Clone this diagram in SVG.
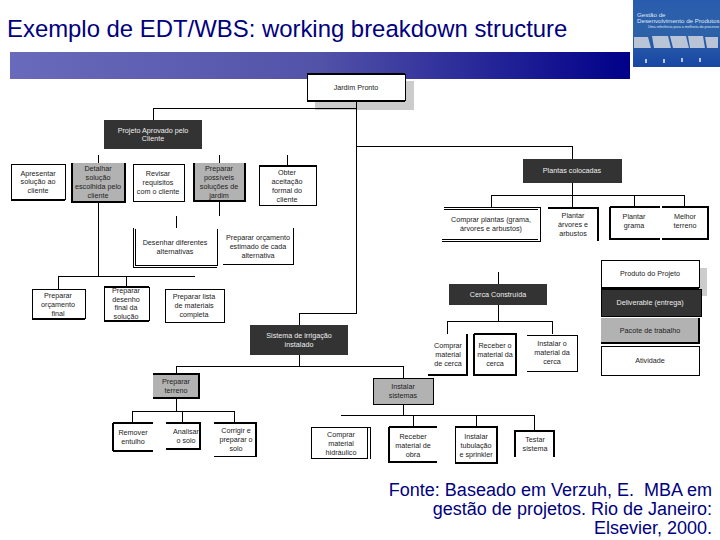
<svg xmlns="http://www.w3.org/2000/svg" width="720" height="540" viewBox="0 0 720 540">
<style>
text{font-family:"Liberation Sans",Arial,sans-serif}
.t{font-size:7.2px;fill:#222;text-anchor:middle}
.w{font-size:7.2px;fill:#eee;text-anchor:middle}
.b{fill:#fff}.g{fill:#b2b2b2}.d{fill:#333}
.e{fill:none;stroke:#000;stroke-width:1;shape-rendering:crispEdges}
.h{fill:none;stroke:#000;stroke-width:2;shape-rendering:crispEdges}
.c{fill:none;stroke:#000;stroke-width:1;shape-rendering:crispEdges}
.f{font-size:18px;fill:#000080;text-anchor:end;white-space:pre}
.l{fill:#b9c4d6}
.m{fill:#dfe8f5}
</style>
<defs><linearGradient id="band" x1="0" x2="1" y1="0" y2="0"><stop offset="0" stop-color="#6a6abc"/><stop offset="0.5" stop-color="#5252a8"/><stop offset="1" stop-color="#00008a"/></linearGradient>
<linearGradient id="logo" x1="0" x2="0" y1="0" y2="1"><stop offset="0" stop-color="#2a5cae"/><stop offset="0.5" stop-color="#2d62a8"/><stop offset="1" stop-color="#1746a4"/></linearGradient></defs>
<rect width="720" height="540" fill="#fff"/>
<text x="7" y="37" font-size="23.900" fill="#000080">Exemplo de EDT/WBS: working breakdown structure</text>
<rect x="10" y="52" width="620" height="27" fill="url(#band)"/>
<g id="logo-box"><rect x="633" y="0" width="87" height="67" fill="url(#logo)"/>
<path class="l" d="M634 37h14l3 11h-17zM652 36h16l3 12h-17zM670 36h16l3 12h-16zM688 36h15l2 12h-15zM705 37h13v11h-11z"/>
<rect class="l" x="645" y="59" width="2" height="4"/><rect class="l" x="663" y="59" width="2" height="4"/><rect class="l" x="681" y="58" width="2" height="4"/><rect class="l" x="699" y="58" width="2" height="4"/>
<text class="m" x="637" y="17" font-size="6.2">Gestão de</text><text class="m" x="637" y="23" font-size="6.2">Desenvolvimento de Produtos</text><text class="m" x="648" y="27.500" font-size="3.6">Uma referência para a melhoria do processo</text></g>
<rect x="315" y="81" width="99" height="29" fill="#ccc"/>
<g id="connectors">
<path class="c" d="M356 101V313H299V327M153 108H356M153 108V120M356 146H572V159M98 155V163M219 155V163M287 155V165M98 202V276M58 289V276H195M126 276V287M219 201V216M176 216V228M572 183V207M491 207V195H684V207M634 195V207M498 272V284M498 305V321M447 334V321H552V334M299 355V366M176 374V366H403V378M176 398V411M132 423V411H234V423M182 411V423M403 404V415M341 415H534V432M413 415V428M476 415V428"/>
</g>
<g id="n1"><rect class="b" x="307" y="74" width="98" height="27"/><path class="h" d="M307 74H405M307 101H405"/><path class="e" d="M307 74V101M405 74V101"/><text class="t" x="356" y="90">Jardim Pronto</text></g>
<g id="n2"><rect class="d" x="104" y="120" width="98" height="29"/><text class="w" x="153" y="133">Projeto Aprovado pelo</text><text class="w" x="153" y="141">Cliente</text></g>
<g id="n3"><rect class="b" x="11" y="164" width="54" height="36"/><path class="e" d="M11 164V200M11 164H65M65 164V200"/><path class="h" d="M11 200H65"/><text class="t" x="38" y="176">Apresentar</text><text class="t" x="38" y="184">solução ao</text><text class="t" x="38" y="193">cliente</text></g>
<g id="n4"><rect class="g" x="72" y="163" width="53" height="39"/><path class="h" d="M72 163V202H125V163"/><text class="t" x="98" y="171">Detalhar</text><text class="t" x="98" y="180">solução</text><text class="t" x="98" y="189">escolhida pelo</text><text class="t" x="98" y="198">cliente</text></g>
<g id="n5"><rect class="b" x="133" y="164" width="51" height="37"/><path class="e" d="M133 164H184V201H133V164"/><text class="t" x="158" y="176">Revisar</text><text class="t" x="158" y="185">requisitos</text><text class="t" x="158" y="194">com o cliente</text></g>
<g id="n6"><rect class="g" x="194" y="163" width="51" height="38"/><path class="h" d="M194 163V201H245V163"/><text class="t" x="219" y="171">Preparar</text><text class="t" x="219" y="180">possíveis</text><text class="t" x="219" y="189">soluções de</text><text class="t" x="219" y="198">jardim</text></g>
<g id="n7"><rect class="b" x="259" y="165" width="57" height="40"/><path class="h" d="M259 166H316"/><path class="e" d="M259 165V205H316V165"/><text class="t" x="287" y="175">Obter</text><text class="t" x="287" y="184">aceitação</text><text class="t" x="287" y="193">formal do</text><text class="t" x="287" y="202">cliente</text></g>
<g id="n8"><rect class="b" x="133" y="228" width="84" height="39"/><path class="e" d="M133 228V267H217M135 229V265H217V229"/><text class="t" x="175" y="245">Desenhar diferentes</text><text class="t" x="175" y="254">alternativas</text></g>
<g id="n9"><rect class="b" x="223" y="228" width="70" height="36"/><path class="e" d="M223 264H293V228"/><text class="t" x="258" y="240">Preparar orçamento</text><text class="t" x="258" y="249">estimado de cada</text><text class="t" x="258" y="258">alternativa</text></g>
<g id="n10"><rect class="b" x="32" y="289" width="53" height="30"/><path class="e" d="M32 289H85V319M32 289V319"/><path class="h" d="M32 319H85"/><text class="t" x="58" y="298">Preparar</text><text class="t" x="58" y="307">orçamento</text><text class="t" x="58" y="316">final</text></g>
<g id="n11"><rect class="b" x="104" y="287" width="45" height="35"/><path class="h" d="M104 287H149M104 321H149"/><path class="e" d="M104 287V321M149 287V321"/><text class="t" x="126" y="293">Preparar</text><text class="t" x="126" y="302">desenho</text><text class="t" x="126" y="310">final da</text><text class="t" x="126" y="319">solução</text></g>
<g id="n12"><rect class="b" x="165" y="289" width="59" height="33"/><path class="e" d="M165 289H224V322H165V289"/><text class="t" x="194" y="299">Preparar lista</text><text class="t" x="194" y="308">de materiais</text><text class="t" x="194" y="317">completa</text></g>
<g id="n13"><rect class="d" x="250" y="325" width="98" height="30"/><text class="w" x="299" y="338">Sistema de irrigação</text><text class="w" x="299" y="347">instalado</text></g>
<g id="n14"><rect class="g" x="153" y="374" width="46" height="24"/><path class="h" d="M153 374H199V398H153"/><text class="t" x="176" y="384">Preparar</text><text class="t" x="176" y="393">terreno</text></g>
<g id="n15"><rect class="b" x="113" y="423" width="40" height="29"/><path class="h" d="M113 423H153M113 451H153M113 423V451"/><text class="t" x="133" y="435">Remover</text><text class="t" x="133" y="444">entulho</text></g>
<g id="n16"><rect class="b" x="166" y="423" width="34" height="27"/><path class="h" d="M166 423H200V449H166"/><text class="t" x="186" y="434">Analisar</text><text class="t" x="186" y="443">o solo</text></g>
<g id="n17"><rect class="b" x="214" y="423" width="42" height="34"/><path class="h" d="M214 423H256V457"/><path class="e" d="M214 456H256"/><text class="t" x="236" y="433">Corrigir e</text><text class="t" x="236" y="442">preparar o</text><text class="t" x="236" y="451">solo</text></g>
<g id="n18"><rect class="b" x="311" y="427" width="59" height="32"/><path class="e" d="M311 459V427H370V459M367 427V459M311 458H367"/><text class="t" x="341" y="437">Comprar</text><text class="t" x="341" y="446">material</text><text class="t" x="341" y="455">hidráulico</text></g>
<g id="n19"><rect class="b" x="389" y="427" width="48" height="35"/><path class="h" d="M389 427H437M389 427V462H437"/><text class="t" x="413" y="439">Receber</text><text class="t" x="413" y="448">material de</text><text class="t" x="413" y="457">obra</text></g>
<g id="n20"><rect class="b" x="455" y="427" width="42" height="36"/><path class="h" d="M455 427H497V463H455"/><path class="e" d="M455 427V463"/><text class="t" x="476" y="439">Instalar</text><text class="t" x="476" y="448">tubulação</text><text class="t" x="476" y="457">e sprinkler</text></g>
<g id="n21"><rect class="b" x="515" y="431" width="39" height="26"/><path class="h" d="M515 457V431H554V457"/><text class="t" x="535" y="442">Testar</text><text class="t" x="535" y="451">sistema</text></g>
<g id="n22"><rect class="g" x="373" y="378" width="60" height="26"/><path class="e" d="M373 378V404H433V378H373"/><text class="t" x="403" y="389">Instalar</text><text class="t" x="403" y="398">sistemas</text></g>
<g id="n23"><rect class="d" x="523" y="159" width="99" height="24"/><text class="w" x="572" y="173">Plantas colocadas</text></g>
<g id="n24"><rect class="b" x="442" y="207" width="98" height="34"/><path class="e" d="M444 207H540V241H442M444 209H538M442 239H538"/><text class="t" x="491" y="222">Comprar plantas (grama,</text><text class="t" x="491" y="231">árvores e arbustos)</text></g>
<g id="n25"><rect class="b" x="548" y="207" width="50" height="34"/><path class="h" d="M548 208H598V241"/><text class="t" x="573" y="218">Plantar</text><text class="t" x="573" y="227">árvores e</text><text class="t" x="573" y="236">arbustos</text></g>
<g id="n26"><rect class="b" x="610" y="207" width="50" height="32"/><path class="h" d="M610 207H660M610 207V239H660"/><text class="t" x="634" y="219">Plantar</text><text class="t" x="634" y="228">grama</text></g>
<g id="n27"><rect class="b" x="662" y="207" width="46" height="32"/><path class="h" d="M662 207H708V239H662"/><text class="t" x="685" y="219">Melhor</text><text class="t" x="685" y="228">terreno</text></g>
<g id="n28"><rect class="d" x="449" y="284" width="98" height="21"/><text class="w" x="498" y="297">Cerca Construída</text></g>
<g id="n29"><rect class="b" x="428" y="334" width="40" height="42"/><path class="h" d="M467 334V375H428"/><text class="t" x="448" y="348">Comprar</text><text class="t" x="448" y="357">material</text><text class="t" x="448" y="366">de cerca</text></g>
<g id="n30"><rect class="b" x="473" y="334" width="44" height="42"/><path class="h" d="M474 334H516V375H474V334"/><text class="t" x="495" y="348">Receber o</text><text class="t" x="495" y="357">material da</text><text class="t" x="495" y="366">cerca</text></g>
<g id="n31"><rect class="b" x="527" y="335" width="50" height="37"/><path class="e" d="M527 335H577V372M527 371H577"/><text class="t" x="552" y="346">Instalar o</text><text class="t" x="552" y="355">material da</text><text class="t" x="552" y="364">cerca</text></g>
<g id="legend">
<rect x="609" y="268" width="98" height="28" fill="#ccc"/>
<g id="l1"><rect class="b" x="601" y="260" width="98" height="28"/><path class="e" d="M601 260H699V288M601 260V288"/><path class="h" d="M601 288H699"/><text class="t" x="650" y="276">Produto do Projeto</text></g>
<g id="l2"><rect class="d" x="601" y="289" width="100" height="27"/><path class="e" d="M601 289H701V316H601V289"/><text class="w" x="650" y="305">Deliverable (entrega)</text></g>
<g id="l3"><rect class="g" x="601" y="318" width="98" height="25"/><path class="h" d="M601 343H699V318"/><text class="t" x="650" y="333">Pacote de trabalho</text></g>
<g id="l4"><rect class="b" x="601" y="346" width="98" height="29"/><path class="e" d="M601 346H699V375H601V346"/><text class="t" x="650" y="363">Atividade</text></g>
</g>
<text class="f" x="712" y="496">Fonte: Baseado em Verzuh, E.  MBA em</text>
<text class="f" x="712" y="515">gestão de projetos. Rio de Janeiro:</text>
<text class="f" x="712" y="534">Elsevier, 2000.</text>
</svg>
